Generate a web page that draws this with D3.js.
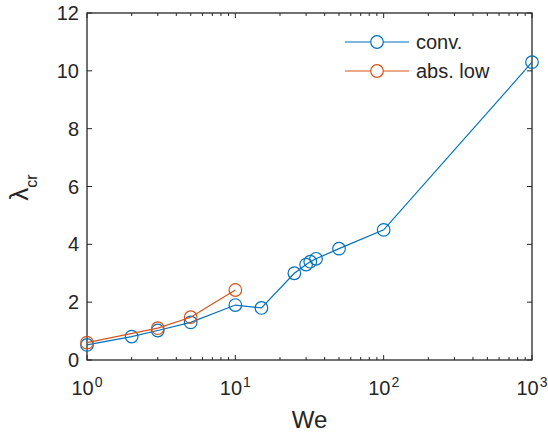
<!DOCTYPE html>
<html>
<head>
<meta charset="utf-8">
<script src="https://cdn.jsdelivr.net/npm/d3@7"></script>
<style>
  html, body { margin: 0; padding: 0; background: #fff; }
  svg { display: block; font-family: "Liberation Sans", Arial, Helvetica, sans-serif; }
</style>
</head>
<body>
<svg id="chart" width="548" height="433"></svg>
<script>
// Critical stretch ratio vs Weber number
const convWe = [1, 2, 3, 5, 10, 15, 25, 30, 32, 35, 50, 100, 1000];
const convLambda = [0.52, 0.81, 1.02, 1.3, 1.9, 1.8, 3.0, 3.3, 3.4, 3.5, 3.85, 4.5, 10.3];
const absWe = [1, 3, 5, 10];
const absLambda = [0.6, 1.1, 1.48, 2.42];
const yTicks = [0, 2, 4, 6, 8, 10, 12];
const xDecades = [1, 10, 100, 1000];
const xExponents = ["0", "1", "2", "3"];
const seriesNames = ["conv.", "abs. low"];

const colors = ["#0072BD", "#D95319"];
const ink = "#262626";

const svg = d3.select("#chart");
const m = { left: 87, right: 532, top: 13, bottom: 360 };

const x = d3.scaleLog().domain([1, 1000]).range([m.left, m.right]);
const y = d3.scaleLinear().domain([0, 12]).range([m.bottom, m.top]);

// minor ticks 2..9 per decade
const minor = [];
xDecades.slice(0, -1).forEach(d => { for (let k = 2; k <= 9; k++) minor.push(d * k); });

const axes = svg.append("g").attr("stroke", ink).attr("stroke-width", 1);

// y ticks (inward, both sides)
yTicks.forEach(v => {
  axes.append("line").attr("x1", m.left).attr("x2", m.left + 5).attr("y1", y(v)).attr("y2", y(v));
  axes.append("line").attr("x1", m.right).attr("x2", m.right - 5).attr("y1", y(v)).attr("y2", y(v));
});
// x major ticks
xDecades.forEach(v => {
  axes.append("line").attr("x1", x(v)).attr("x2", x(v)).attr("y1", m.bottom).attr("y2", m.bottom - 5);
  axes.append("line").attr("x1", x(v)).attr("x2", x(v)).attr("y1", m.top).attr("y2", m.top + 5);
});
// x minor ticks
minor.forEach(v => {
  axes.append("line").attr("x1", x(v)).attr("x2", x(v)).attr("y1", m.bottom).attr("y2", m.bottom - 3);
  axes.append("line").attr("x1", x(v)).attr("x2", x(v)).attr("y1", m.top).attr("y2", m.top + 3);
});

// frame
svg.append("rect")
  .attr("x", m.left).attr("y", m.top)
  .attr("width", m.right - m.left).attr("height", m.bottom - m.top)
  .attr("fill", "none").attr("stroke", ink).attr("stroke-width", 1.3);

// y tick labels
svg.append("g").selectAll("text").data(yTicks).join("text")
  .attr("x", m.left - 8).attr("y", d => y(d)).attr("dy", "0.35em")
  .attr("text-anchor", "end").attr("font-size", 20).attr("fill", ink)
  .text(d => d);

// x tick labels 10^n
const xl = svg.append("g").selectAll("text").data(xDecades).join("text")
  .attr("x", d => x(d)).attr("y", 395)
  .attr("text-anchor", "middle").attr("font-size", 20).attr("fill", ink);
xl.append("tspan").text("10");
xl.append("tspan").attr("dy", -8).attr("dx", 1).attr("font-size", 14).text((d, i) => xExponents[i]);

// axis titles
svg.append("text").attr("x", (m.left + m.right) / 2).attr("y", 428)
  .attr("text-anchor", "middle").attr("font-size", 24).attr("fill", ink).text("We");

const yt = svg.append("text")
  .attr("transform", `translate(28,${(m.top + m.bottom) / 2 + 1}) rotate(-90)`)
  .attr("text-anchor", "middle").attr("font-size", 26).attr("fill", ink);
yt.append("tspan").text("λ");
yt.append("tspan").attr("dy", 9).attr("font-size", 16).text("cr");

// series
const series = [
  { xs: convWe, ys: convLambda, color: colors[0] },
  { xs: absWe, ys: absLambda, color: colors[1] }
];
const line = d3.line().x(d => x(d[0])).y(d => y(d[1]));

series.forEach(s => {
  const pts = s.xs.map((v, i) => [v, s.ys[i]]);
  const g = svg.append("g");
  g.append("path").attr("d", line(pts)).attr("fill", "none")
    .attr("stroke", s.color).attr("stroke-width", 1.2);
  g.selectAll("circle").data(pts).join("circle")
    .attr("cx", d => x(d[0])).attr("cy", d => y(d[1])).attr("r", 6.3)
    .attr("fill", "none").attr("stroke", s.color).attr("stroke-width", 1.2);
});

// legend
const leg = svg.append("g");
seriesNames.forEach((name, i) => {
  const ly = 42 + i * 29;
  leg.append("line").attr("x1", 345).attr("x2", 409).attr("y1", ly).attr("y2", ly)
    .attr("stroke", colors[i]).attr("stroke-width", 1.2);
  leg.append("circle").attr("cx", 377).attr("cy", ly).attr("r", 6.3)
    .attr("fill", "#fff").attr("stroke", colors[i]).attr("stroke-width", 1.2);
  leg.append("text").attr("x", 416).attr("y", ly).attr("dy", "0.35em")
    .attr("font-size", 20).attr("fill", ink).text(name);
});
</script>
</body>
</html>
